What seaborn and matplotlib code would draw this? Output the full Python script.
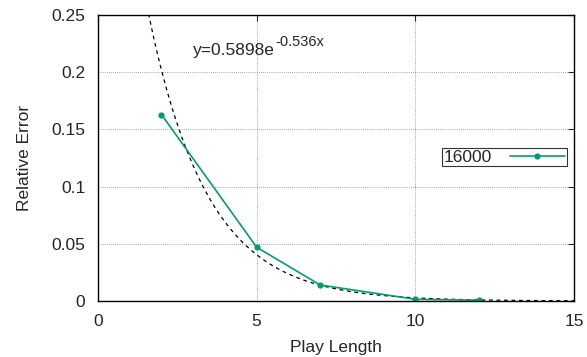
import numpy as np
import pandas as pd
import matplotlib
matplotlib.use("Agg")
import matplotlib.pyplot as plt
import seaborn as sns

play_length = [2, 5, 7, 10, 12]
rel_error = [0.163, 0.047, 0.014, 0.0015, 0.0007]
series_label = "16000"
fit_a = 0.5898
fit_b = -0.536

sns.set_style("white")
plt.rcParams["font.family"] = ["Liberation Sans", "DejaVu Sans"]
plt.rcParams["font.size"] = 12.5

df = pd.DataFrame({"Play Length": play_length, "Relative Error": rel_error})
fit_x = np.linspace(0, 15, 300)
fit_df = pd.DataFrame({"x": fit_x, "y": fit_a * np.exp(fit_b * fit_x)})

fig = plt.figure(figsize=(5.87, 3.57), dpi=100)
ax = fig.add_axes([98 / 587, 56 / 357, 476 / 587, 286 / 357])

sns.lineplot(data=fit_df, x="x", y="y", ax=ax, color="black", linewidth=0.9,
             linestyle=(0, (3, 3)), label="_fit")
sns.lineplot(data=df, x="Play Length", y="Relative Error", ax=ax, color="#009e73",
             linewidth=1.2, marker="o", markersize=4.5, markeredgewidth=0,
             label=series_label)

ax.set_xlim(0, 15)
ax.set_ylim(0, 0.25)
ax.set_xticks([0, 5, 10, 15])
ax.set_yticks([0, 0.05, 0.1, 0.15, 0.2, 0.25])
ax.set_yticklabels(["0", "0.05", "0.1", "0.15", "0.2", "0.25"])
ax.grid(True, color="#888888", linestyle=(0, (1, 1.5)), linewidth=0.6)
ax.tick_params(direction="in", length=4, width=0.8, top=True, right=True,
               pad=9, labelsize=12.5)
for s in ax.spines.values():
    s.set_color("black")
    s.set_linewidth(1.0)

ax.set_xlabel("Play Length", labelpad=8)
ax.set_ylabel("Relative Error", labelpad=14)

# fit equation, superscript placed after the main text
eq = ax.text(3.0, 0.215, "y=0.5898e", fontsize=12.5, va="baseline", ha="left")
ax.annotate("-0.536x", xy=(1, 0.6), xycoords=eq, fontsize=10.5,
            va="bottom", ha="left")

leg = ax.legend(loc="center right", bbox_to_anchor=(0.985, 0.503), markerfirst=False,
                frameon=True, fancybox=False, edgecolor="black", borderpad=0.1,
                handlelength=3.2, handletextpad=1.0, borderaxespad=0)
leg.get_frame().set_linewidth(0.8)

fig.savefig("out.png", dpi=100)
